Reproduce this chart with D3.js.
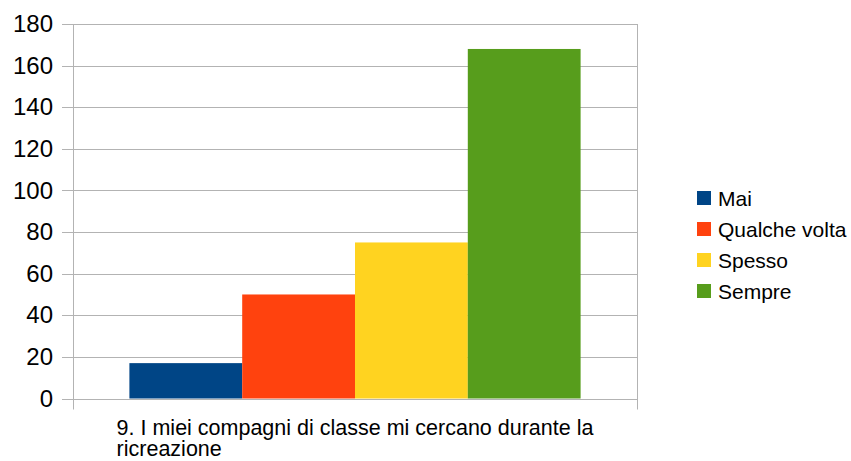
<!DOCTYPE html>
<html>
<head>
<meta charset="utf-8">
<script src="https://cdn.jsdelivr.net/npm/d3@7"></script>
<style>
  body { margin: 0; background: #fff; }
  svg { font-family: "Liberation Sans", Arial, sans-serif; }
</style>
</head>
<body>
<svg id="chart" width="851" height="461"></svg>
<script>
const category = "9. I miei compagni di classe mi cercano durante la ricreazione";
const series = ["Mai", "Qualche volta", "Spesso", "Sempre"];
const values = [17, 50, 75, 168];
const colors = ["#004586", "#ff420e", "#ffd320", "#579d1c"];
const yTicks = [0, 20, 40, 60, 80, 100, 120, 140, 160, 180];

const svg = d3.select("#chart");
const margin = { top: 24, left: 73, right: 214, bottom: 62 };
const width = 851 - margin.left - margin.right;
const height = 461 - margin.top - margin.bottom - 0.5;

const x0 = d3.scaleBand()
  .domain([category])
  .range([margin.left, margin.left + width])
  .paddingInner(0)
  .paddingOuter(0);

const x1 = d3.scaleBand()
  .domain(series)
  .range([x0(category) + x0.bandwidth() * 0.1, x0(category) + x0.bandwidth() * 0.9]);

const y = d3.scaleLinear()
  .domain([0, 180])
  .range([margin.top + height, margin.top]);

// grid lines
svg.append("g")
  .attr("class", "grid")
  .selectAll("line")
  .data(yTicks)
  .join("line")
  .attr("x1", margin.left - 11)
  .attr("x2", margin.left + width)
  .attr("y1", (d) => Math.round(y(d)) + 0.5)
  .attr("y2", (d) => Math.round(y(d)) + 0.5)
  .attr("stroke", "#b3b3b3")
  .attr("stroke-width", 1);

// category boundaries (left axis + right edge)
svg.append("g")
  .selectAll("line")
  .data([x0(category), x0(category) + x0.bandwidth()])
  .join("line")
  .attr("x1", (d) => Math.round(d) + 0.5)
  .attr("x2", (d) => Math.round(d) + 0.5)
  .attr("y1", margin.top)
  .attr("y2", y(0) + 11)
  .attr("stroke", "#b3b3b3");

// bars
svg.append("g")
  .selectAll("rect")
  .data(series.map((s, i) => ({ s, v: values[i], c: colors[i] })))
  .join("rect")
  .attr("x", (d) => x1(d.s))
  .attr("width", x1.bandwidth())
  .attr("y", (d) => y(d.v))
  .attr("height", (d) => y(0) - y(d.v))
  .attr("fill", (d) => d.c);

// y labels
const yAxis = d3.axisLeft(y).tickValues(yTicks).tickSize(0).tickPadding(20);
svg.append("g")
  .attr("transform", `translate(${margin.left},0)`)
  .call(yAxis)
  .call((g) => g.select(".domain").remove())
  .call((g) => g.selectAll("text")
    .attr("font-family", "Liberation Sans, Arial, sans-serif")
    .attr("font-size", 24)
    .attr("fill", "#000"));

// category label, wrapped
const words = category.split(" ");
const label = svg.append("text")
  .attr("font-size", 21.5)
  .attr("fill", "#000");
const lines = [];
let line = [];
const probe = label.append("tspan");
words.forEach((w) => {
  line.push(w);
  probe.text(line.join(" "));
  if (probe.node().getComputedTextLength() > x0.bandwidth() * 0.9 && line.length > 1) {
    line.pop();
    lines.push(line.join(" "));
    line = [w];
  }
});
lines.push(line.join(" "));
probe.remove();
let maxW = 0;
lines.forEach((l, i) => {
  const t = label.append("tspan").text(l).attr("dy", i === 0 ? 0 : 21);
  maxW = Math.max(maxW, t.node().getComputedTextLength());
});
const lx = x0(category) + x0.bandwidth() / 2 - maxW / 2;
label.attr("x", lx).attr("y", 435);
label.selectAll("tspan").attr("x", lx);

// legend
const legend = svg.append("g").attr("transform", "translate(697,0)");
const rowY = [198, 229, 260, 291];
const items = legend.selectAll("g")
  .data(series)
  .join("g")
  .attr("transform", (d, i) => `translate(0,${rowY[i]})`);
items.append("rect")
  .attr("x", 0)
  .attr("y", -7)
  .attr("width", 14)
  .attr("height", 14)
  .attr("fill", (d, i) => colors[i]);
items.append("text")
  .attr("x", 21)
  .attr("y", 7.5)
  .attr("font-size", 21)
  .attr("fill", "#000")
  .text((d) => d);
</script>
</body>
</html>
